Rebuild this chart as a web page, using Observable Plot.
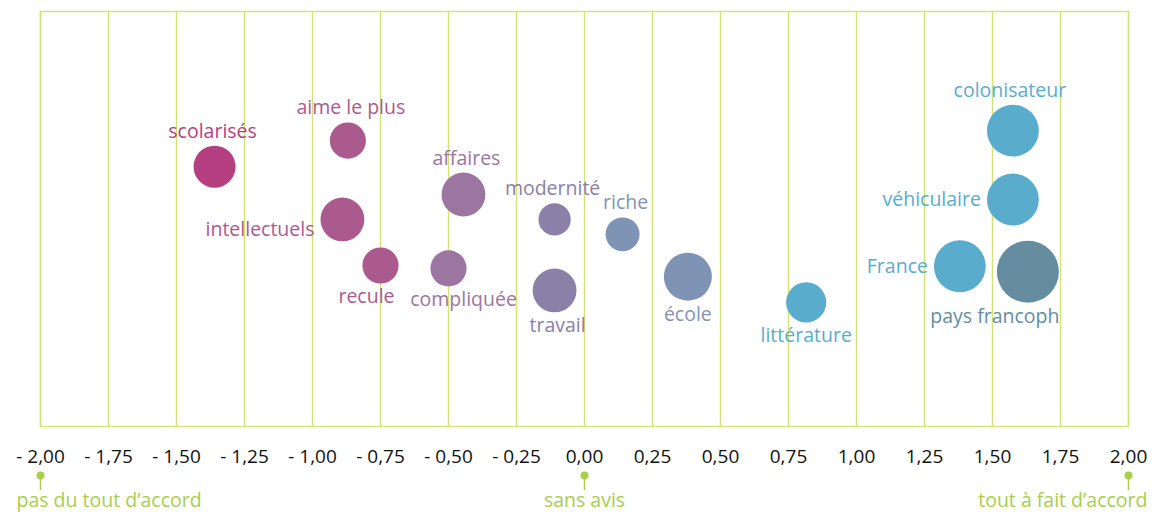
<!DOCTYPE html>
<html>
<head>
<meta charset="utf-8">
<script src="https://cdn.jsdelivr.net/npm/d3@7"></script>
<script src="https://cdn.jsdelivr.net/npm/@observablehq/plot@0.6"></script>
<style>
  body { margin: 0; background: #fff; }
  svg { display: block; }
</style>
</head>
<body>
<div id="chart"></div>
<script>
// ---- data ----
const words  = ["scolarisés","aime le plus","intellectuels","recule","affaires","compliquée","modernité","travail","riche","école","littérature","colonisateur","véhiculaire","France","pays francoph"];
const score  = [-1.36, -0.87, -0.89, -0.75, -0.445, -0.50, -0.11, -0.11, 0.14, 0.38, 0.815, 1.575, 1.575, 1.38, 1.63];
const height = [62.6, 68.9, 49.9, 38.8, 55.9, 38.1, 49.9, 32.8, 46.3, 36.1, 29.9, 71.3, 54.7, 38.6, 37.3];
const weight = [46, 34, 50, 34, 50, 34, 27, 50, 30, 60, 42, 70, 70, 70, 100];
const group  = ["g1","g2","g2","g2","g3","g3","g4","g4","g5","g5","g6","g6","g6","g6","g7"];
const tickValues = [-2, -1.75, -1.5, -1.25, -1, -0.75, -0.5, -0.25, 0, 0.25, 0.5, 0.75, 1, 1.25, 1.5, 1.75, 2];
const scaleEnds = [-2, 0, 2];
const scaleEndLabels = ["pas du tout d’accord", "sans avis", "tout à fait d’accord"];

// ---- label placement (layout) ----
const placement = {
  "scolarisés":    {side: "top", dx: -2},
  "aime le plus":  {side: "top", dx: 3},
  "intellectuels": {side: "left", dy: 10},
  "recule":        {side: "bottom", dx: -14},
  "affaires":      {side: "top", dx: 3},
  "compliquée":    {side: "bottom", dx: 15},
  "modernité":     {side: "top", dx: -2},
  "travail":       {side: "bottom", dx: 3},
  "riche":         {side: "top", dx: 3},
  "école":         {side: "bottom", dx: 0},
  "littérature":   {side: "bottom", dx: 0},
  "colonisateur":  {side: "top", dx: -3},
  "véhiculaire":   {side: "left", dy: 0},
  "France":        {side: "left", dy: 0},
  "pays francoph": {side: "bottom", dx: -33}
};

const rows = words.map((w, i) => ({word: w, x: score[i], y: height[i], w: weight[i], g: group[i]}));

const colorDomain = ["g1","g2","g3","g4","g5","g6","g7"];
const colorRange  = ["#b53f80","#aa5a8c","#9b76a0","#8a80a8","#7f94b5","#5aaccd","#658d9f"];
const colorOf = g => colorRange[colorDomain.indexOf(g)];

const rMax = 31;
const rScale = d3.scaleSqrt().domain([0, d3.max(weight)]).range([0, rMax]);

const grid = "#d2e273";
const green = "#a9cd4d";
const labelSize = 19.5;

const fmt = v => (v < 0 ? "- " : "") + Math.abs(v).toFixed(2).replace(".", ",");

const labelMarks = [];
for (const d of rows) {
  const p = placement[d.word];
  const r = rScale(d.w);
  const opts = {
    x: "x", y: "y", text: "word", fill: colorOf(d.g),
    fontSize: labelSize, fontFamily: "Open Sans, sans-serif"
  };
  if (p.side === "top") Object.assign(opts, {lineAnchor: "bottom", textAnchor: "middle", dy: -(r + 8), dx: p.dx || 0});
  if (p.side === "bottom") Object.assign(opts, {lineAnchor: "top", textAnchor: "middle", dy: r + 6, dx: p.dx || 0});
  if (p.side === "left") Object.assign(opts, {lineAnchor: "middle", textAnchor: "end", dx: -(r + 6), dy: p.dy || 0});
  labelMarks.push(Plot.text([d], opts));
}

const ends = scaleEnds.map((v, i) => ({x: v, label: scaleEndLabels[i]}));

const chart = Plot.plot({
  width: 1160,
  height: 513,
  marginLeft: 40,
  marginRight: 32,
  marginTop: 11,
  marginBottom: 87,
  style: {fontFamily: "Open Sans, sans-serif", background: "#fff", overflow: "visible"},
  x: {domain: [-2, 2], ticks: tickValues, tickFormat: fmt, label: null},
  y: {domain: [0, 100], axis: null},
  r: {type: "identity"},
  marks: [
    Plot.ruleX(tickValues, {stroke: grid, strokeWidth: 1.4}),
    Plot.frame({stroke: grid, strokeWidth: 1.4}),
    Plot.axisX({ticks: tickValues, tickFormat: fmt, tickSize: 0, tickPadding: 23, fontSize: 19, fill: "#111", label: null}),
    Plot.dot(rows, {x: "x", y: "y", r: d => rScale(d.w), fill: d => colorOf(d.g), stroke: "none"}),
    ...labelMarks,
    Plot.ruleX(ends, {x: "x", y1: 0, y2: 0, insetTop: 49, insetBottom: -64, stroke: green, strokeWidth: 1.5}),
    Plot.dot(ends, {x: "x", y: () => 0, dy: 49, r: 4, fill: green, stroke: "none"}),
    Plot.text(ends.slice(0, 1), {x: "x", y: () => 0, dy: 74, dx: -24, text: "label", textAnchor: "start", fill: green, fontSize: labelSize}),
    Plot.text(ends.slice(1, 2), {x: "x", y: () => 0, dy: 74, text: "label", textAnchor: "middle", fill: green, fontSize: labelSize}),
    Plot.text(ends.slice(2, 3), {x: "x", y: () => 0, dy: 74, dx: 19, text: "label", textAnchor: "end", fill: green, fontSize: labelSize})
  ]
});

document.getElementById("chart").appendChild(chart);
</script>
</body>
</html>
